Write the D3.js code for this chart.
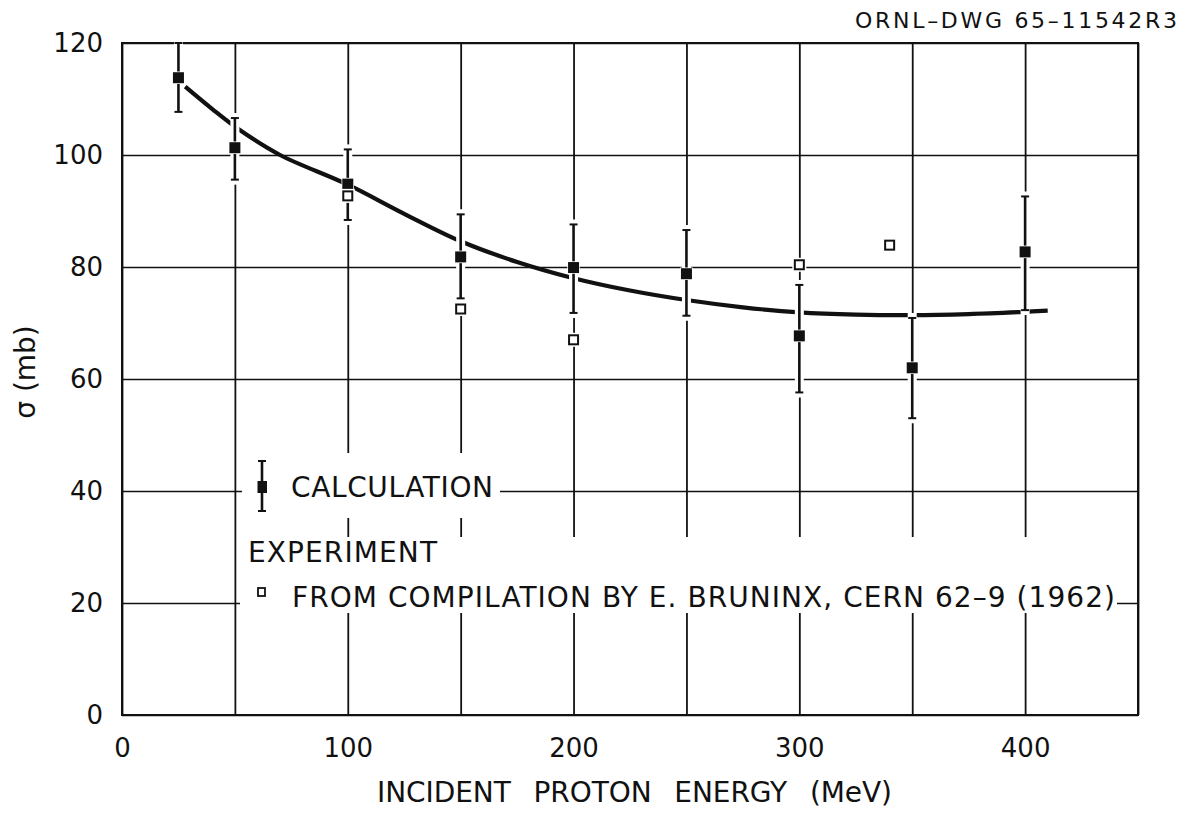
<!DOCTYPE html>
<html>
<head>
<meta charset="utf-8">
<script src="https://cdn.jsdelivr.net/npm/d3@7/dist/d3.min.js"></script>
<style>
  html, body { margin: 0; background: #fff; }
  svg { display: block; }
  text { font-family: "DejaVu Sans", "Liberation Sans", Arial, sans-serif; fill: #111; }
</style>
</head>
<body>
<svg id="chart" width="1191" height="813"></svg>
<script>
// Calculated cross sections (filled squares) with their error-bar limits, mb
const energies   = [25, 50, 100, 150, 200, 250, 300, 350, 400];
const calculated = [113.8, 101.3, 94.8, 81.8, 79.9, 78.8, 67.7, 62.0, 82.7];
const calcUpper  = [120.0, 106.6, 101.0, 89.4, 87.6, 86.6, 76.8, 70.9, 92.6];
const calcLower  = [107.7, 95.6, 88.4, 74.4, 71.8, 71.3, 57.6, 53.0, 72.3];

// Experimental values (open squares), Bruninx compilation
const expEnergies = [100, 150, 200, 300, 340];
const expValues   = [92.7, 72.5, 67.0, 80.4, 83.9];

// Smooth curve drawn through the calculation
const curveEnergies = [28, 40, 52, 70, 100, 125, 150, 175, 200, 225, 250, 275, 300, 325, 350, 375, 400, 410];
const curveValues   = [112.2, 108.2, 104.5, 100.0, 94.7, 89.5, 84.6, 80.9, 78.0, 75.8, 74.1, 72.8, 71.9, 71.5, 71.4, 71.6, 72.0, 72.2];

// Axes
const xGridValues = [0, 50, 100, 150, 200, 250, 300, 350, 400, 450];
const xTickLabels = [0, 100, 200, 300, 400];
const yTickValues = [0, 20, 40, 60, 80, 100, 120];

const svg = d3.select("#chart");
const plotL = 122, plotR = 1138, plotT = 43, plotB = 715;

const x = d3.scaleLinear().domain([0, 450]).range([plotL, plotR]);
const y = d3.scaleLinear().domain([0, 120]).range([plotB, plotT]);

// Vertical grid + x tick labels
const xAxis = d3.axisBottom(x)
  .tickValues(xGridValues)
  .tickSize(-(plotB - plotT))
  .tickPadding(24)
  .tickFormat(d => xTickLabels.includes(d) ? String(d) : "");
const gx = svg.append("g").attr("transform", `translate(0,${plotB})`).call(xAxis);
gx.attr("font-family", null);
gx.select(".domain").remove();
gx.selectAll("line").attr("stroke", "#111").attr("stroke-width", 1.8);
gx.selectAll("text").style("font-size", "26px").attr("fill", "#111");

// Horizontal grid + y tick labels
const yAxis = d3.axisLeft(y)
  .tickValues(yTickValues)
  .tickSize(-(plotR - plotL))
  .tickPadding(19);
const gy = svg.append("g").attr("transform", `translate(${plotL},0)`).call(yAxis);
gy.attr("font-family", null);
gy.select(".domain").remove();
gy.selectAll("line").attr("stroke", "#111").attr("stroke-width", 1.5);
gy.selectAll("text").style("font-size", "26px").attr("fill", "#111");

// Frame
svg.append("rect")
  .attr("x", plotL).attr("y", plotT)
  .attr("width", plotR - plotL).attr("height", plotB - plotT)
  .attr("fill", "none").attr("stroke", "#111").attr("stroke-width", 2);

// Blank the grid behind the legend lettering
svg.append("rect").attr("x", 242).attr("y", 453).attr("width", 258).attr("height", 65).attr("fill", "#fff");
svg.append("rect").attr("x", 240).attr("y", 537).attr("width", 877).attr("height", 76).attr("fill", "#fff");

// Curve
const line = d3.line()
  .x((d, i) => x(curveEnergies[i]))
  .y(d => y(d))
  .curve(d3.curveCatmullRom.alpha(0.5));
svg.append("path")
  .datum(curveValues)
  .attr("d", line)
  .attr("fill", "none")
  .attr("stroke", "#111")
  .attr("stroke-width", 4.2)
  .attr("stroke-linecap", "butt");

const capW = 8;
const calcData = energies.map((e, i) => ({ e, v: calculated[i], hi: calcUpper[i], lo: calcLower[i] }));

// White breaks where the error bars cross the curve and grid
svg.append("g").selectAll("line")
  .data(calcData).join("line")
  .attr("x1", d => x(d.e)).attr("x2", d => x(d.e))
  .attr("y1", d => y(d.hi) - 5).attr("y2", d => y(d.lo) + 5)
  .attr("stroke", "#fff").attr("stroke-width", 9);

// Error bars
const eb = svg.append("g").attr("stroke", "#111");
eb.selectAll("line.bar").data(calcData).join("line").attr("class", "bar")
  .attr("x1", d => x(d.e)).attr("x2", d => x(d.e))
  .attr("y1", d => y(d.hi)).attr("y2", d => y(d.lo))
  .attr("stroke-width", 2.6);
eb.selectAll("line.capHi").data(calcData).join("line").attr("class", "capHi")
  .attr("x1", d => x(d.e) - capW / 2).attr("x2", d => x(d.e) + capW / 2)
  .attr("y1", d => y(d.hi)).attr("y2", d => y(d.hi))
  .attr("stroke-width", 2);
eb.selectAll("line.capLo").data(calcData).join("line").attr("class", "capLo")
  .attr("x1", d => x(d.e) - capW / 2).attr("x2", d => x(d.e) + capW / 2)
  .attr("y1", d => y(d.lo)).attr("y2", d => y(d.lo))
  .attr("stroke-width", 2);

// Calculated points: filled squares
const fs = 11;
svg.append("g").selectAll("rect")
  .data(calcData).join("rect")
  .attr("x", d => x(d.e) - fs / 2).attr("y", d => y(d.v) - fs / 2)
  .attr("width", fs).attr("height", fs)
  .attr("fill", "#111").attr("stroke", "#fff").attr("stroke-width", 1.5)
  .attr("paint-order", "stroke");

// Experimental points: open squares
const os = 9;
const expData = expEnergies.map((e, i) => ({ e, v: expValues[i] }));
svg.append("g").selectAll("rect.halo")
  .data(expData).join("rect").attr("class", "halo")
  .attr("x", d => x(d.e) - os / 2 - 2.5).attr("y", d => y(d.v) - os / 2 - 2.5)
  .attr("width", os + 5).attr("height", os + 5)
  .attr("fill", "#fff");
svg.append("g").selectAll("rect.pt")
  .data(expData).join("rect").attr("class", "pt")
  .attr("x", d => x(d.e) - os / 2).attr("y", d => y(d.v) - os / 2)
  .attr("width", os).attr("height", os)
  .attr("fill", "#fff").attr("stroke", "#111").attr("stroke-width", 2);

// Legend
const lg = svg.append("g");
lg.append("line").attr("x1", 262).attr("x2", 262).attr("y1", 461).attr("y2", 511)
  .attr("stroke", "#111").attr("stroke-width", 2.6);
lg.append("line").attr("x1", 258).attr("x2", 266).attr("y1", 461).attr("y2", 461)
  .attr("stroke", "#111").attr("stroke-width", 2);
lg.append("line").attr("x1", 258).attr("x2", 266).attr("y1", 511).attr("y2", 511)
  .attr("stroke", "#111").attr("stroke-width", 2);
lg.append("rect").attr("x", 257.5).attr("y", 481).attr("width", 9.5).attr("height", 12).attr("fill", "#111");
lg.append("text").attr("x", 291).attr("y", 497).style("font-size", "28px")
  .attr("textLength", 202).attr("lengthAdjust", "spacing").text("CALCULATION");

lg.append("text").attr("x", 248).attr("y", 562).style("font-size", "28px")
  .attr("textLength", 189).attr("lengthAdjust", "spacing").text("EXPERIMENT");
lg.append("rect").attr("x", 258).attr("y", 588).attr("width", 7).attr("height", 8)
  .attr("fill", "#fff").attr("stroke", "#111").attr("stroke-width", 1.8);
lg.append("text").attr("x", 292).attr("y", 607).style("font-size", "28px")
  .attr("textLength", 823).attr("lengthAdjust", "spacing")
  .text("FROM COMPILATION BY E. BRUNINX, CERN 62–9 (1962)");

// Axis titles
svg.append("text")
  .attr("x", 377).attr("y", 802)
  .style("font-size", "28px")
  .attr("textLength", 515).attr("lengthAdjust", "spacing")
  .style("word-spacing", "14px")
  .text("INCIDENT PROTON ENERGY (MeV)");

svg.append("text")
  .attr("transform", "translate(35,372) rotate(-90)")
  .attr("text-anchor", "middle")
  .style("font-size", "28px")
  .text("σ (mb)");

// Drawing number
svg.append("text")
  .attr("x", 855).attr("y", 28)
  .style("font-size", "22px")
  .attr("textLength", 322).attr("lengthAdjust", "spacing")
  .text("ORNL–DWG 65–11542R3");
</script>
</body>
</html>
